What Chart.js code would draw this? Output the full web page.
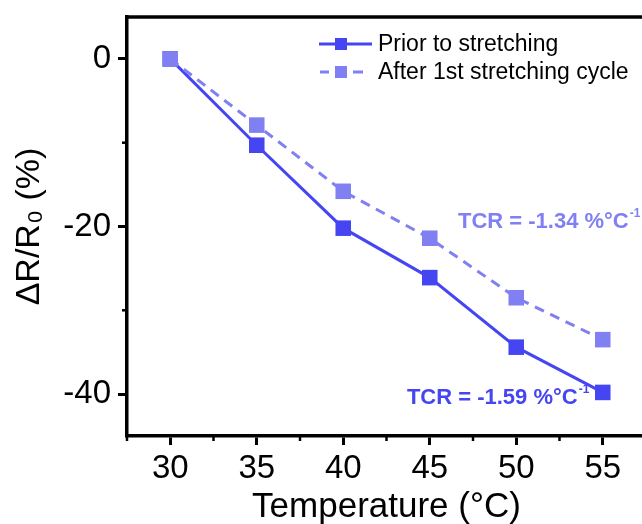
<!DOCTYPE html>
<html>
<head>
<meta charset="utf-8">
<script src="https://cdn.jsdelivr.net/npm/chart.js@4.4.0/dist/chart.umd.min.js"></script>
<style>
  html, body { margin: 0; padding: 0; overflow: hidden; background: #fff; }
  canvas { display: block; }
</style>
</head>
<body>
<canvas id="tcrChart" width="660" height="524"></canvas>
<script>
// data
const temperatures = [30, 35, 40, 45, 50, 55];
const priorValues = [0, -10.3, -20.2, -26.1, -34.4, -39.8];
const afterValues = [0, -7.9, -15.8, -21.4, -28.5, -33.5];
const xTickValues = [30, 35, 40, 45, 50, 55];
const yTickValues = [-40, -20, 0];
const seriesNames = ["Prior to stretching", "After 1st stretching cycle"];
const tcrNotes = ["TCR = -1.59 %°C", "TCR = -1.34 %°C"];

const priorColor = "#4545f2";
const afterColor = "#8080f2";
const fontFamily = "Arial, 'Liberation Sans', sans-serif";

function toPoints(values) {
  return temperatures.map((t, i) => ({ x: t, y: values[i] }));
}

const frame = {
  id: "frame",
  afterDraw(chart) {
    const ctx = chart.ctx;
    const a = chart.chartArea;
    const xs = chart.scales.x;
    const ys = chart.scales.y;
    ctx.save();
    ctx.strokeStyle = "#000";

    // top border
    ctx.lineWidth = 3.5;
    ctx.beginPath();
    ctx.moveTo(a.left - 1.5, a.top);
    ctx.lineTo(a.right + 2, a.top);
    ctx.stroke();

    // minor ticks
    ctx.lineWidth = 2.5;
    for (let v = xs.min; v <= xs.max + 0.001; v += 2.5) {
      if (Math.abs(v % 5) < 0.001) continue;
      const px = xs.getPixelForValue(v);
      ctx.beginPath();
      ctx.moveTo(px, a.bottom);
      ctx.lineTo(px, a.bottom + 5);
      ctx.stroke();
    }
    for (let v = Math.ceil(ys.min / 10) * 10; v <= ys.max; v += 10) {
      if (v % 20 === 0) continue;
      const py = ys.getPixelForValue(v);
      ctx.beginPath();
      ctx.moveTo(a.left, py);
      ctx.lineTo(a.left - 5, py);
      ctx.stroke();
    }

    // legend
    const rows = [
      { y: 44, color: priorColor, dashed: false },
      { y: 72, color: afterColor, dashed: true }
    ];
    ctx.font = "23px " + fontFamily;
    ctx.textBaseline = "middle";
    rows.forEach((r, i) => {
      ctx.strokeStyle = r.color;
      ctx.fillStyle = r.color;
      ctx.lineWidth = 3;
      ctx.beginPath();
      if (r.dashed) {
        ctx.moveTo(320, r.y); ctx.lineTo(329, r.y);
        ctx.moveTo(353, r.y); ctx.lineTo(363, r.y);
      } else {
        ctx.moveTo(319, r.y); ctx.lineTo(372, r.y);
      }
      ctx.stroke();
      ctx.fillRect(335, r.y - 6, 12, 12);
      ctx.fillStyle = "#000";
      ctx.fillText(chart.data.datasets[i].label, 378, r.y + 1);
    });

    // TCR notes
    const notes = [
      { text: tcrNotes[0], x: 43.68, y: -40.5, color: priorColor },
      { text: tcrNotes[1], x: 46.63, y: -19.5, color: afterColor }
    ];
    notes.forEach(n => {
      const px = xs.getPixelForValue(n.x);
      const py = ys.getPixelForValue(n.y);
      ctx.fillStyle = n.color;
      ctx.font = "bold 22px " + fontFamily;
      ctx.textBaseline = "middle";
      ctx.fillText(n.text, px, py);
      const w = ctx.measureText(n.text).width;
      ctx.font = "bold 12px " + fontFamily;
      ctx.fillText("-1", px + w + 1, py - 9);
    });

    ctx.restore();
  }
};

new Chart(document.getElementById("tcrChart"), {
  type: "line",
  data: {
    datasets: [
      {
        label: seriesNames[0],
        data: toPoints(priorValues),
        borderColor: priorColor,
        backgroundColor: priorColor,
        borderWidth: 3,
        pointStyle: "rect",
        pointRadius: 11,
        pointBorderWidth: 0,
        tension: 0,
        order: 2
      },
      {
        label: seriesNames[1],
        data: toPoints(afterValues),
        borderColor: afterColor,
        backgroundColor: afterColor,
        borderWidth: 3,
        borderDash: [10, 7],
        pointStyle: "rect",
        pointRadius: 11,
        pointBorderWidth: 0,
        tension: 0,
        order: 1
      }
    ]
  },
  options: {
    responsive: false,
    animation: false,
    layout: { padding: { top: 17, right: 14, left: 0, bottom: 0 } },
    plugins: {
      legend: { display: false },
      tooltip: { enabled: false }
    },
    scales: {
      x: {
        type: "linear",
        min: 27.5,
        max: 57.5,
        afterBuildTicks(s) { s.ticks = xTickValues.map(v => ({ value: v })); },
        afterFit(s) { s.height = 88; s.paddingLeft = 0; s.paddingRight = 0; },
        border: { color: "#000", width: 3.5 },
        grid: { drawOnChartArea: false, drawTicks: true, tickLength: 9, tickWidth: 3, tickColor: "#000" },
        ticks: { color: "#000", padding: 4, font: { family: fontFamily, size: 33 } },
        title: { display: true, text: "Temperature (°C)", color: "#000", padding: { top: 0, bottom: -4 }, font: { family: fontFamily, size: 35 } }
      },
      y: {
        min: -45,
        max: 5,
        afterBuildTicks(s) { s.ticks = yTickValues.map(v => ({ value: v })); },
        afterFit(s) { s.width = 127; s.paddingTop = 0; s.paddingBottom = 0; },
        border: { color: "#000", width: 3.5 },
        grid: { drawOnChartArea: false, drawTicks: true, tickLength: 9, tickWidth: 3, tickColor: "#000" },
        ticks: { color: "#000", padding: 7, font: { family: fontFamily, size: 33 } },
        title: { display: true, text: "ΔR/R₀ (%)", color: "#000", padding: { top: 9, bottom: 0 }, font: { family: fontFamily, size: 34 } }
      }
    }
  },
  plugins: [frame]
});
</script>
</body>
</html>
